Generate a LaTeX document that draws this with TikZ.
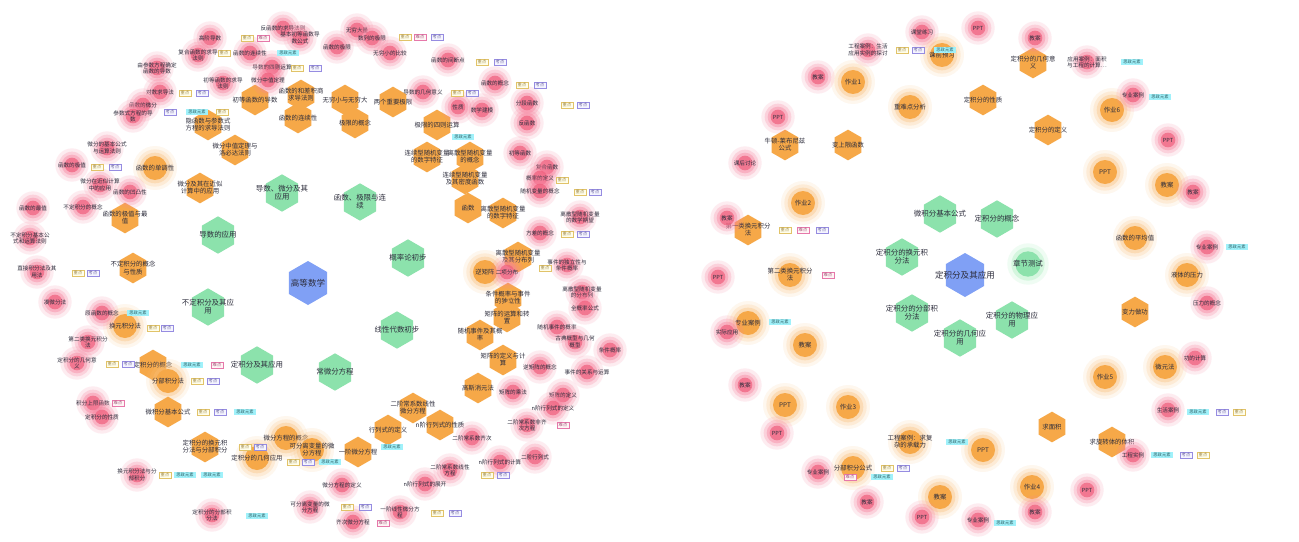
\documentclass[tikz,border=0pt]{standalone}
\usepackage{fontspec}
\setmainfont{Noto Sans CJK SC}
\usetikzlibrary{shapes.geometric,arrows.meta}
\definecolor{hubc}{RGB}{128,160,245}
\definecolor{grc}{RGB}{140,226,172}
\definecolor{orc}{RGB}{246,168,72}
\definecolor{rdc}{RGB}{240,95,125}
\definecolor{rdglow}{RGB}{248,130,158}
\definecolor{orglow}{RGB}{250,190,120}
\definecolor{grglow}{RGB}{150,235,175}
\definecolor{edgec}{RGB}{160,165,198}
\definecolor{txtc}{RGB}{45,45,60}
\definecolor{tyc}{RGB}{225,195,105}
\definecolor{tpc}{RGB}{150,140,225}
\definecolor{tkc}{RGB}{230,120,170}
\definecolor{tcc}{RGB}{120,235,248}
\pgfdeclarelayer{back}
\pgfdeclarelayer{bg}
\pgfsetlayers{back,bg,main}
\tikzset{
  hexa/.style={regular polygon,regular polygon sides=6,shape border rotate=30,inner sep=0pt,draw=none},
  hubn/.style={hexa,fill=hubc,minimum size=33pt},
  grn/.style={hexa,fill=grc,minimum size=28pt},
  orh/.style={hexa,fill=orc,minimum size=23pt},
  gcirc/.style={circle,inner sep=0pt,draw=none},
  orcn/.style={gcirc,fill=orc,minimum size=18pt},
  orga/.style={gcirc,fill=orglow,opacity=0.12,minimum size=33pt},
  orgb/.style={gcirc,fill=orglow,opacity=0.2,minimum size=28pt},
  orgc/.style={gcirc,fill=orglow,opacity=0.35,minimum size=23pt},
  grcn/.style={gcirc,fill=grc,minimum size=19pt},
  grga/.style={gcirc,fill=grglow,opacity=0.15,minimum size=31pt},
  grgb/.style={gcirc,fill=grglow,opacity=0.3,minimum size=25pt},
  rdn/.style={gcirc,fill=rdc,opacity=0.7,minimum size=11pt},
  rdga/.style={gcirc,fill=rdglow,opacity=0.15,minimum size=25pt},
  rdgb/.style={gcirc,fill=rdglow,opacity=0.25,minimum size=20pt},
  rdgc/.style={gcirc,fill=rdglow,opacity=0.4,minimum size=15.5pt},
  labhub/.style={align=center,text=txtc,font=\fontsize{6.4pt}{7pt}\selectfont,inner sep=0pt},
  labg/.style={align=center,text=txtc,font=\fontsize{5.6pt}{6.2pt}\selectfont,inner sep=0pt},
  labo/.style={align=center,text=txtc,font=\fontsize{4.8pt}{5.3pt}\selectfont,inner sep=0pt},
  labr/.style={align=center,text=txtc,font=\fontsize{4.2pt}{4.7pt}\selectfont,inner sep=0pt},
  tagb/.style={rectangle,line width=0.3pt,inner xsep=1.2pt,inner ysep=0.6pt,font=\fontsize{3.2pt}{3.5pt}\selectfont},
  tgy/.style={tagb,draw=tyc,fill=yellow!8,text=tyc!70!black},
  tgp/.style={tagb,draw=tpc,fill=blue!4,text=tpc!70!black},
  tgk/.style={tagb,draw=tkc,fill=red!4,text=tkc!70!black},
  tgc/.style={tagb,fill=tcc!70,text=tcc!40!black,inner xsep=2pt},
  lnk/.style={draw=edgec,line width=0.4pt,-{Stealth[length=2.6pt,width=2pt]}},
}
\newcommand\HB[4]{\node[hubn] (#1) at (#2,#3) {}; \node[labhub] (#1t) at (#2,#3) {#4};}
\newcommand\GH[4]{\node[grn] (#1) at (#2,#3) {}; \node[labg] (#1t) at (#2,#3) {#4};}
\newcommand\GC[4]{\node[grga] (#1a) at (#2,#3) {}; \node[grgb] (#1b) at (#2,#3) {}; \node[grcn] (#1) at (#2,#3) {}; \node[labg] (#1t) at (#2,#3) {#4};}
\newcommand\OH[4]{\node[orh] (#1) at (#2,#3) {}; \node[labo] (#1t) at (#2,#3) {#4};}
\newcommand\OC[4]{\node[orga] (#1a) at (#2,#3) {}; \node[orgb] (#1b) at (#2,#3) {}; \node[orgc] (#1c) at (#2,#3) {}; \node[orcn] (#1) at (#2,#3) {}; \node[labo] (#1t) at (#2,#3) {#4};}
\newcommand\RD[4]{\node[rdga] (#1a) at (#2,#3) {}; \node[rdgb] (#1b) at (#2,#3) {}; \node[rdgc] (#1c) at (#2,#3) {}; \node[rdn] (#1) at (#2,#3) {}; \node[labr] (#1t) at (#2,#3) {#4};}
\begin{document}
\begin{tikzpicture}[x=0.75pt,y=-0.75pt]
\fill[white] (0,0) rectangle (1299,542);
\useasboundingbox (0,0) rectangle (1299,542);
\begin{pgfonlayer}{back}
\fill[cyan!60!white,opacity=0.07] (300,395) ellipse (125 and 125);
\fill[cyan!60!white,opacity=0.05] (330,300) ellipse (90 and 70);
\fill[violet!50!white,opacity=0.06] (445,340) ellipse (40 and 85);
\fill[cyan!60!white,opacity=0.07] (1030,420) ellipse (80 and 105);
\fill[violet!50!white,opacity=0.06] (1105,360) ellipse (28 and 80);
\fill[cyan!60!white,opacity=0.05] (1000,300) ellipse (70 and 60);
\end{pgfonlayer}
% ================= LEFT GRAPH =================
\HB{L0}{308}{283}{高等数学}
\GH{LG1}{282}{193}{导数、微分及其\\应用}
\GH{LG2}{360}{202}{函数、极限与连\\续}
\GH{LG3}{218}{235}{导数的应用}
\GH{LG4}{408}{258}{概率论初步}
\GH{LG5}{208}{307}{不定积分及其应\\用}
\GH{LG6}{397}{330}{线性代数初步}
\GH{LG7}{257}{365}{定积分及其应用}
\GH{LG8}{335}{372}{常微分方程}
\OH{LO1}{255}{100}{初等函数的导数}
\OH{LO2}{301}{95}{函数的和差积商\\求导法则}
\OH{LO3}{298}{118}{函数的连续性}
\OH{LO4}{208}{125}{隐函数与参数式\\方程的求导法则}
\OH{LO5}{235}{150}{微分中值定理与\\洛必达法则}
\OC{LO6}{155}{168}{函数的单调性}
\OH{LO7}{345}{100}{无穷小与无穷大}
\OH{LO8}{393}{102}{两个重要极限}
\OH{LO9}{355}{123}{极限的概念}
\OH{LO10}{437}{125}{极限的四则运算}
\OH{LO11}{427}{157}{连续型随机变量\\的数字特征}
\OH{LO12}{470}{157}{离散型随机变量\\的概念}
\OH{LO13}{465}{179}{连续型随机变量\\及其密度函数}
\OH{LO14}{468}{208}{函数}
\OH{LO15}{503}{213}{离散型随机变量\\的数字特征}
\OH{LO16}{518}{257}{离散型随机变量\\及其分布列}
\OC{LO17}{485}{272}{逆矩阵}
\OH{LO18}{508}{298}{条件概率与事件\\的独立性}
\OH{LO19}{507}{317}{矩阵的运算和转\\置}
\OH{LO20}{480}{335}{随机事件及其概\\率}
\OH{LO21}{503}{360}{矩阵的定义与计\\算}
\OH{LO22}{478}{388}{高斯消元法}
\OH{LO23}{413}{408}{二阶常系数线性\\微分方程}
\OH{LO24}{388}{430}{行列式的定义}
\OH{LO25}{440}{425}{n阶行列式的性质}
\OH{LO26}{358}{452}{一阶微分方程}
\OH{LO27}{200}{188}{微分及其在近似\\计算中的应用}
\OH{LO28}{125}{218}{函数的极值与最\\值}
\OH{LO29}{133}{268}{不定积分的概念\\与性质}
\OC{LO30}{125}{326}{换元积分法}
\OH{LO31}{153}{365}{定积分的概念}
\OC{LO32}{168}{381}{分部积分法}
\OH{LO33}{168}{412}{微积分基本公式}
\OH{LO34}{205}{447}{定积分的换元积\\分法与分部积分}
\OC{LO35}{257}{458}{定积分的几何应用}
\OC{LO36}{286}{438}{微分方程的概念}
\OC{LO37}{312}{450}{可分离变量的微\\分方程}
\RD{LR1}{283}{28}{反函数的求导法则}
\RD{LR2}{210}{38}{高阶导数}
\RD{LR3}{198}{55}{复合函数的求导\\法则}
\RD{LR4}{157}{68}{由参数方程确定\\函数的导数}
\RD{LR5}{223}{83}{初等函数的求导\\法则}
\RD{LR6}{160}{92}{对数求导法}
\RD{LR7}{143}{105}{函数的微分}
\RD{LR8}{133}{116}{参数式方程的导\\数}
\RD{LR9}{272}{67}{导数的四则运算}
\RD{LR10}{268}{80}{微分中值定理}
\RD{LR11}{250}{53}{函数的连续性}
\RD{LR12}{107}{148}{微分的基本公式\\与运算法则}
\RD{LR13}{72}{165}{函数的极值}
\RD{LR14}{357}{30}{无穷大量}
\RD{LR15}{372}{38}{数列的极限}
\RD{LR16}{337}{47}{函数的极限}
\RD{LR17}{390}{53}{无穷小的比较}
\RD{LR18}{448}{60}{函数的间断点}
\RD{LR19}{423}{92}{导数的几何意义}
\RD{LR20}{458}{107}{性质}
\RD{LR21}{482}{110}{数学建模}
\RD{LR22}{495}{83}{函数的概念}
\RD{LR23}{527}{103}{分段函数}
\RD{LR24}{527}{123}{反函数}
\RD{LR25}{520}{153}{初等函数}
\RD{LR26}{547}{167}{复合函数}
\RD{LR27}{33}{208}{函数的最值}
\RD{LR28}{130}{192}{函数的凹凸性}
\RD{LR29}{100}{185}{微分在近似计算\\中的应用}
\RD{LR30}{83}{207}{不定积分的概念}
\RD{LR31}{30}{238}{不定积分基本公\\式和运算法则}
\RD{LR32}{37}{272}{直接积分法及其\\用法}
\RD{LR33}{55}{302}{凑微分法}
\RD{LR34}{102}{313}{原函数的概念}
\RD{LR35}{88}{342}{第二类换元积分\\法}
\RD{LR36}{540}{178}{概率的定义}
\RD{LR37}{540}{191}{随机变量的概念}
\RD{LR38}{580}{217}{离散型随机变量\\的数学期望}
\RD{LR39}{540}{233}{方差的概念}
\RD{LR40}{507}{272}{二项分布}
\RD{LR41}{567}{265}{事件的独立性与\\条件概率}
\RD{LR42}{582}{292}{离散型随机变量\\的分布列}
\RD{LR43}{585}{308}{全概率公式}
\RD{LR44}{557}{327}{随机事件的概率}
\RD{LR45}{575}{342}{古典概型与几何\\概型}
\RD{LR46}{610}{350}{条件概率}
\RD{LR47}{540}{367}{逆矩阵的概念}
\RD{LR48}{587}{372}{事件的关系与运算}
\RD{LR49}{513}{392}{矩阵的乘法}
\RD{LR50}{563}{395}{矩阵的定义}
\RD{LR51}{553}{408}{n阶行列式的定义}
\RD{LR52}{472}{438}{二阶常系数齐次}
\RD{LR53}{527}{425}{二阶常系数非齐\\次方程}
\RD{LR54}{500}{462}{n阶行列式的计算}
\RD{LR55}{535}{457}{二阶行列式}
\RD{LR56}{450}{470}{二阶常系数线性\\方程}
\RD{LR57}{425}{484}{n阶行列式的展开}
\RD{LR58}{342}{485}{微分方程的定义}
\RD{LR59}{310}{507}{可分离变量的微\\分方程}
\RD{LR60}{353}{522}{齐次微分方程}
\RD{LR61}{400}{512}{一阶线性微分方\\程}
\RD{LR62}{77}{363}{定积分的几何意\\义}
\RD{LR63}{93}{403}{积分上限函数}
\RD{LR64}{102}{417}{定积分的性质}
\RD{LR65}{137}{475}{换元积分法与分\\部积分}
\RD{LR66}{212}{515}{定积分的分部积\\分法}
\RD{LR67}{300}{38}{基本初等函数导\\数公式}
% tags left
\node[tgy] (ta1) at (247,38) {重点}; \node[tgk] (ta2) at (263,38) {难点};
\node[tgy] (ta3) at (224,53) {重点}; \node[tgc] (ta4) at (288,53) {思政元素};
\node[tgy] (ta5) at (297,68) {重点}; \node[tgp] (ta6) at (315,68) {考点};
\node[tgy] (ta7) at (185,93) {重点}; \node[tgp] (ta8) at (202,93) {考点};
\node[tgp] (ta9) at (170,112) {考点}; \node[tgc] (ta10) at (197,112) {思政元素}; \node[tgy] (ta11) at (222,112) {重点};
\node[tgy] (ta12) at (97,167) {重点}; \node[tgp] (ta13) at (115,167) {考点};
\node[tgy] (ta14) at (405,37) {重点}; \node[tgk] (ta15) at (420,37) {难点}; \node[tgp] (ta16) at (437,37) {考点};
\node[tgy] (ta17) at (482,62) {重点}; \node[tgp] (ta18) at (500,62) {考点};
\node[tgy] (ta19) at (522,85) {重点}; \node[tgp] (ta20) at (540,85) {考点};
\node[tgy] (ta21) at (567,105) {重点}; \node[tgp] (ta22) at (583,105) {考点};
\node[tgy] (ta23) at (457,93) {重点}; \node[tgp] (ta24) at (472,93) {考点};
\node[tgc] (ta25) at (463,137) {思政元素};
\node[tgy] (ta26) at (562,180) {重点};
\node[tgy] (ta27) at (580,192) {重点}; \node[tgp] (ta28) at (595,192) {考点};
\node[tgy] (ta29) at (567,234) {重点}; \node[tgp] (ta30) at (583,234) {考点};
\node[tgy] (ta31) at (545,268) {重点};
\node[tgy] (ta32) at (78,273) {重点}; \node[tgp] (ta33) at (93,273) {考点};
\node[tgc] (ta34) at (138,313) {思政元素};
\node[tgy] (ta35) at (153,328) {重点}; \node[tgp] (ta36) at (167,328) {考点};
\node[tgy] (ta37) at (112,364) {重点}; \node[tgp] (ta38) at (128,364) {考点};
\node[tgc] (ta39) at (192,365) {思政元素}; \node[tgk] (ta40) at (217,365) {难点};
\node[tgy] (ta41) at (197,381) {重点}; \node[tgp] (ta42) at (213,381) {考点};
\node[tgk] (ta43) at (118,403) {难点};
\node[tgy] (ta44) at (203,412) {重点}; \node[tgp] (ta45) at (220,412) {考点}; \node[tgc] (ta46) at (245,412) {思政元素};
\node[tgy] (ta47) at (165,475) {重点}; \node[tgc] (ta48) at (185,475) {思政元素}; \node[tgc] (ta49) at (212,475) {思政元素};
\node[tgc] (ta50) at (257,516) {思政元素};
\node[tgk] (ta51) at (563,425) {难点};
\node[tgy] (ta52) at (487,475) {重点}; \node[tgp] (ta53) at (503,475) {考点};
\node[tgy] (ta54) at (347,507) {重点}; \node[tgp] (ta55) at (365,507) {考点};
\node[tgy] (ta56) at (437,513) {重点}; \node[tgp] (ta57) at (455,513) {考点};
\node[tgk] (ta58) at (383,523) {难点};
\node[tgy] (ta59) at (293,462) {重点}; \node[tgp] (ta60) at (308,462) {考点}; \node[tgc] (ta61) at (330,462) {思政元素};
\node[tgc] (ta62) at (392,447) {思政元素};
\node[tgy] (ta63) at (245,447) {重点}; \node[tgp] (ta64) at (260,447) {考点};
\begin{pgfonlayer}{bg}
\foreach \a/\b in {L0/LG1,L0/LG2,L0/LG3,L0/LG4,L0/LG5,L0/LG6,L0/LG7,L0/LG8,
 LG1/LO1,LG1/LO2,LG1/LO4,LG1/LO5,LG1/LO27,
 LG2/LO7,LG2/LO8,LG2/LO9,LG2/LO10,LG2/LO3,LG2/LO14,
 LG3/LO28,LG3/LO6,LG3/LO5,LG3/LO29,
 LG4/LO11,LG4/LO12,LG4/LO13,LG4/LO15,LG4/LO16,LG4/LO17,LG4/LO18,LG4/LO20,
 LG5/LO29,LG5/LO30,LG5/LO32,
 LG6/LO19,LG6/LO21,LG6/LO22,LG6/LO24,LG6/LO25,
 LG7/LO31,LG7/LO33,LG7/LO34,LG7/LO35,
 LG8/LO23,LG8/LO26,LG8/LO36,LG8/LO37,
 LO1/LR5,LO1/LR9,LO1/LR2,LO2/LR1,LO2/LR67,LO3/LR11,
 LO4/LR4,LO4/LR6,LO4/LR8,LO4/LR3,LO5/LR10,LO27/LR12,LO27/LR7,LO6/LR13,
 LO28/LR27,LO28/LR28,LO28/LR29,LO29/LR30,LO29/LR31,LO29/LR32,
 LO30/LR33,LO30/LR34,LO30/LR35,LO7/LR14,LO7/LR16,LO8/LR17,LO9/LR15,
 LO10/LR19,LO10/LR18,LO14/LR22,LO14/LR23,LO14/LR24,LO14/LR25,LO14/LR20,LO14/LR21,
 LO12/LR26,LO13/LR36,LO13/LR37,LO15/LR38,LO15/LR39,LO16/LR40,LO16/LR41,LO16/LR42,
 LO18/LR43,LO18/LR44,LO20/LR45,LO20/LR46,LO19/LR47,LO19/LR48,LO21/LR49,LO21/LR50,
 LO22/LR51,LO22/LR53,LO23/LR52,LO23/LR56,LO24/LR58,LO24/LR57,LO25/LR54,LO25/LR55,
 LO26/LR59,LO26/LR60,LO26/LR61,LO31/LR62,LO31/LR63,LO33/LR64,LO33/LR65,
 LO34/LR66,LO34/LR65,LO35/LR66,LO36/LR59}
 \draw[lnk] (\a) -- (\b);
\end{pgfonlayer}
% ================= RIGHT GRAPH =================
\HB{R0}{965}{275}{定积分及其应用}
\GH{RG1}{940}{214}{微积分基本公式}
\GH{RG2}{997}{219}{定积分的概念}
\GH{RG3}{902}{257}{定积分的换元积\\分法}
\GC{RG4}{1028}{264}{章节测试}
\GH{RG5}{912}{313}{定积分的分部积\\分法}
\GH{RG6}{960}{338}{定积分的几何应\\用}
\GH{RG7}{1012}{320}{定积分的物理应\\用}
\OH{RO1}{983}{100}{定积分的性质}
\OH{RO2}{1033}{63}{定积分的几何意\\义}
\OH{RO3}{1048}{130}{定积分的定义}
\OH{RO4}{785}{145}{牛顿-莱布尼兹\\公式}
\OH{RO5}{848}{145}{变上限函数}
\OH{RO6}{748}{230}{第一类换元积分\\法}
\OH{RO7}{1135}{312}{变力做功}
\OH{RO8}{1052}{427}{求面积}
\OH{RO9}{1112}{442}{求旋转体的体积}
\OC{RC1}{942}{55}{课前预习}
\OC{RC2}{853}{82}{作业1}
\OC{RC3}{910}{107}{重难点分析}
\OC{RC4}{803}{203}{作业2}
\OC{RC5}{790}{275}{第二类换元积分\\法}
\OC{RC6}{748}{323}{专业案例}
\OC{RC7}{805}{345}{教案}
\OC{RC8}{785}{405}{PPT}
\OC{RC9}{848}{407}{作业3}
\OC{RC10}{910}{442}{工程案例：求复\\杂的承载力}
\OC{RC11}{983}{450}{PPT}
\OC{RC12}{853}{468}{分部积分公式}
\OC{RC13}{940}{497}{教案}
\OC{RC14}{1112}{110}{作业6}
\OC{RC15}{1105}{172}{PPT}
\OC{RC16}{1167}{185}{教案}
\OC{RC17}{1135}{238}{函数的平均值}
\OC{RC18}{1187}{275}{液体的压力}
\OC{RC19}{1165}{367}{微元法}
\OC{RC20}{1105}{377}{作业5}
\OC{RC21}{1032}{487}{作业4}
\RD{RR1}{922}{32}{课堂练习}
\RD{RR2}{978}{28}{PPT}
\RD{RR3}{868}{50}{工程案例：生活\\应用实例的探讨}
\RD{RR4}{818}{77}{教案}
\RD{RR5}{778}{117}{PPT}
\RD{RR6}{745}{163}{课后讨论}
\RD{RR7}{727}{218}{教案}
\RD{RR8}{718}{277}{PPT}
\RD{RR9}{727}{332}{实际应用}
\RD{RR10}{745}{385}{教案}
\RD{RR11}{777}{433}{PPT}
\RD{RR12}{818}{472}{专业案例}
\RD{RR13}{867}{502}{教案}
\RD{RR14}{922}{517}{PPT}
\RD{RR15}{978}{520}{专业案例}
\RD{RR16}{1035}{38}{教案}
\RD{RR17}{1087}{62}{应用案例：面积\\与工程的计算…}
\RD{RR18}{1133}{95}{专业案例}
\RD{RR19}{1168}{140}{PPT}
\RD{RR20}{1193}{192}{教案}
\RD{RR21}{1207}{247}{专业案例}
\RD{RR22}{1207}{303}{压力的概念}
\RD{RR23}{1195}{358}{功的计算}
\RD{RR24}{1168}{410}{生活案例}
\RD{RR25}{1133}{455}{工程实例}
\RD{RR26}{1035}{512}{教案}
\RD{RR27}{1087}{490}{PPT}
% tags right
\node[tgy] (tb1) at (902,50) {重点}; \node[tgp] (tb2) at (918,50) {考点}; \node[tgc] (tb3) at (945,50) {思政元素};
\node[tgc] (tb4) at (1132,62) {思政元素};
\node[tgc] (tb5) at (1160,97) {思政元素};
\node[tgc] (tb6) at (1237,247) {思政元素};
\node[tgy] (tb7) at (785,230) {重点}; \node[tgk] (tb8) at (803,230) {难点}; \node[tgp] (tb9) at (822,230) {考点};
\node[tgk] (tb10) at (828,275) {难点};
\node[tgc] (tb11) at (780,322) {思政元素};
\node[tgc] (tb12) at (957,442) {思政元素};
\node[tgy] (tb13) at (887,468) {重点}; \node[tgp] (tb14) at (903,468) {考点};
\node[tgk] (tb15) at (850,477) {难点}; \node[tgc] (tb16) at (882,477) {思政元素};
\node[tgc] (tb17) at (1005,523) {思政元素};
\node[tgc] (tb18) at (1198,412) {思政元素}; \node[tgp] (tb19) at (1222,412) {考点}; \node[tgy] (tb20) at (1239,412) {重点};
\node[tgc] (tb21) at (1162,455) {思政元素}; \node[tgp] (tb22) at (1186,455) {考点}; \node[tgy] (tb23) at (1203,455) {重点};
\begin{pgfonlayer}{bg}
\foreach \a/\b in {R0/RG1,R0/RG2,R0/RG3,R0/RG4,R0/RG5,R0/RG6,R0/RG7,
 RG2/RO1,RG2/RO2,RG2/RO3,RG2/RC1,RG2/RC2,RG2/RC3,RG2/RR4,
 RG1/RO4,RG1/RO5,RG1/RC4,RG1/RC2,RG1/RR5,
 RG3/RO6,RG3/RC5,RG3/RC6,RG3/RC7,RG3/RC8,RG3/RR10,RG3/RC4,
 RG5/RC9,RG5/RC10,RG5/RC11,RG5/RC12,RG5/RC13,RG5/RR11,
 RG6/RO8,RG6/RO9,RG6/RC20,RG6/RC21,RG6/RR27,
 RG7/RC14,RG7/RC15,RG7/RC16,RG7/RC17,RG7/RO7,RG7/RC18,RG7/RC19,
 RO2/RR16,RO3/RR17,RC1/RR1,RC1/RR3,RC2/RR4,RC3/RR5,RO4/RR6,RO6/RR7,
 RC5/RR8,RC6/RR9,RC7/RR12,RC8/RR11,RC10/RR15,RC13/RR14,RC12/RR13,
 RC16/RR19,RC16/RR20,RC17/RR18,RC18/RR22,RC19/RR23,RO9/RR24,RO9/RR25,
 RC21/RR26,RO9/RC19,RO9/RC18,RO8/RR24,RO4/RC4,RO5/RC4,RO6/RC10,RC4/RR8}
 \draw[lnk] (\a) -- (\b);
\end{pgfonlayer}
\end{tikzpicture}
\end{document}
